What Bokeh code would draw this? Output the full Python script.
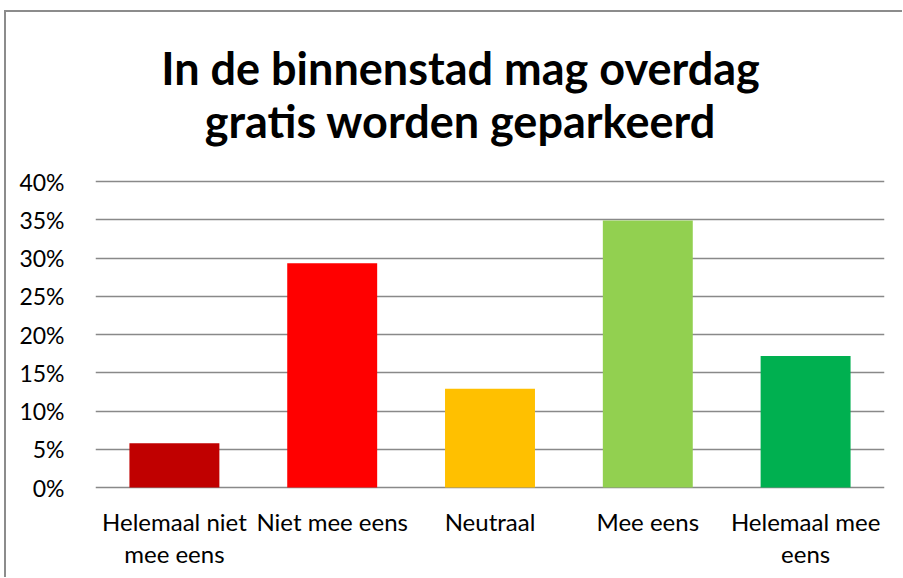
from bokeh.plotting import figure
from bokeh.models import ColumnDataSource, FixedTicker, NumeralTickFormatter, Range1d
from bokeh.core.properties import value
from bokeh.embed import file_html
from bokeh.resources import INLINE

categories = ["Helemaal niet mee eens", "Niet mee eens", "Neutraal", "Mee eens", "Helemaal mee eens"]
label_line1 = ["Helemaal niet", "Niet mee eens", "Neutraal", "Mee eens", "Helemaal mee"]
label_line2 = ["mee eens", "", "", "", "eens"]
values = [0.058, 0.293, 0.129, 0.349, 0.172]
colors = ["#C00000", "#FF0000", "#FFC000", "#92D050", "#00B050"]
y_ticks = [0.0, 0.05, 0.10, 0.15, 0.20, 0.25, 0.30, 0.35, 0.40]
title_lines = ["In de binnenstad mag overdag", "gratis worden geparkeerd"]

FONT = "Lato"
GRID = "#898989"

# layout (pixels)
W, H = 896, 565
FRAME_TOP = 12          # page y of canvas top
PX_PER_UNIT = 765.0     # pixels per 100 %
Y0_PAGE = 487.0         # page y of 0 %
y_end = 0.4 + (181 - FRAME_TOP) / PX_PER_UNIT
y_start = -((FRAME_TOP + H) - Y0_PAGE) / PX_PER_UNIT

def page_y(py):
    return (Y0_PAGE - py) / PX_PER_UNIT

source = ColumnDataSource(dict(cat=categories, val=values, color=colors))

p = figure(
    x_range=categories,
    y_range=Range1d(y_start, y_end),
    width=W, height=H,
    frame_width=789, frame_height=H,
    min_border_left=89, min_border_right=W - 89 - 789,
    min_border_top=0, min_border_bottom=0,
    output_backend="svg", toolbar_location=None,
)
p.outline_line_color = None
p.background_fill_color = "white"
p.border_fill_color = "white"

p.vbar(x="cat", top="val", bottom=0, width=0.57, color="color", source=source, line_color=None)

# grid
p.xgrid.grid_line_color = None
p.ygrid.grid_line_color = GRID
p.ygrid.grid_line_width = 1.3
p.ygrid.ticker = FixedTicker(ticks=y_ticks)

# y axis
p.yaxis.ticker = FixedTicker(ticks=y_ticks)
p.yaxis.formatter = NumeralTickFormatter(format="0%")
p.yaxis.axis_line_color = None
p.yaxis.major_tick_line_color = None
p.yaxis.minor_tick_line_color = None
p.yaxis.major_label_standoff = 25
p.yaxis.major_label_text_font = FONT
p.yaxis.major_label_text_font_size = "23px"
p.yaxis.major_label_text_color = "black"

p.xaxis.visible = False

# category labels (two lines)
lab = ColumnDataSource(dict(cat=categories, l1=label_line1, l2=label_line2))
p.text(x="cat", y=page_y(521), text="l1", source=lab, text_align="center",
       text_baseline="alphabetic", text_font=value(FONT), text_font_size="24px",
       text_color="black")
p.text(x="cat", y=page_y(553), text="l2", source=lab, text_align="center",
       text_baseline="alphabetic", text_font=value(FONT), text_font_size="24px",
       text_color="black")

# title (two centered lines)
tsrc = ColumnDataSource(dict(x=[(460 - 95) / 157.8] * 2,
                             y=[page_y(67), page_y(120)], t=title_lines))
p.text(x="x", y="y", text="t", source=tsrc, text_align="center",
       text_baseline="alphabetic", text_font=value(FONT), text_font_style="bold",
       text_font_size="45px", text_color="black")

p.styles = {"margin-left": "4px", "margin-top": "10px",
            "border-left": "2px solid #8c8c8c", "border-top": "2px solid #8c8c8c"}

open("out.html", "w").write(file_html(p, INLINE))
